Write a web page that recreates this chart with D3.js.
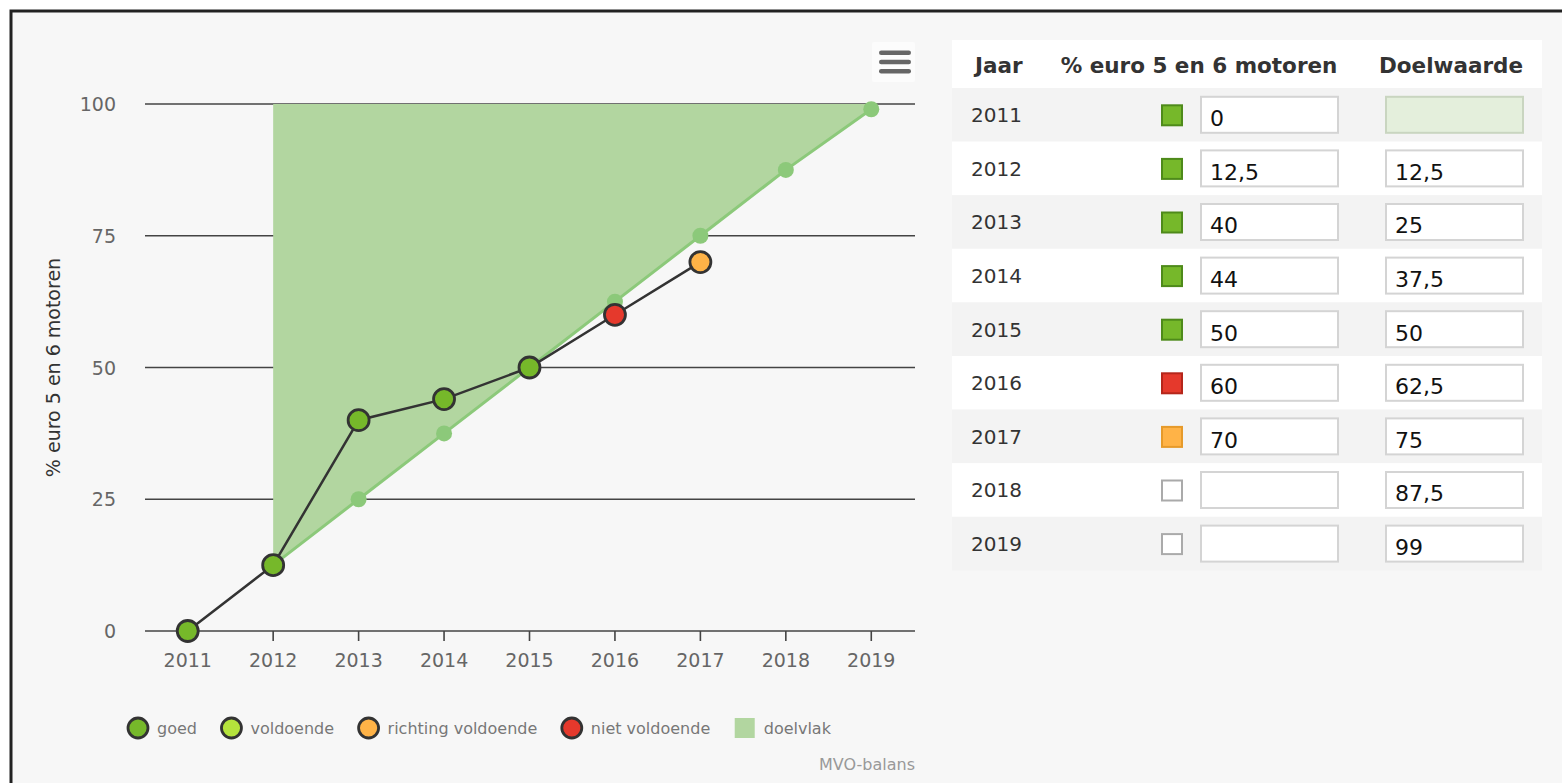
<!DOCTYPE html>
<html>
<head>
<meta charset="utf-8">
<script src="https://cdn.jsdelivr.net/npm/d3@7"></script>
<style>
  html, body { margin: 0; padding: 0; background: #ffffff; }
  svg { display: block; }
</style>
</head>
<body>
<div id="chart"></div>
<script>
// data
var years = [2011, 2012, 2013, 2014, 2015, 2016, 2017, 2018, 2019];
var actual = [0, 12.5, 40, 44, 50, 60, 70, null, null];
var target = [null, 12.5, 25, 37.5, 50, 62.5, 75, 87.5, 99];
var pointStatus = ["goed", "goed", "goed", "goed", "goed", "niet voldoende", "richting voldoende", null, null];
var yTicks = [0, 25, 50, 75, 100];
var legendNames = ["goed", "voldoende", "richting voldoende", "niet voldoende", "doelvlak"];
var legendColours = ["#76b82a", "#b5e33c", "#ffb347", "#e5392c", "#b2d6a0"];
var headers = ["Jaar", "% euro 5 en 6 motoren", "Doelwaarde"];

var width = 1562, height = 783;
var FONT = "'DejaVu Sans', Verdana, sans-serif";
var statusFill = d3.scaleOrdinal().domain(legendNames).range(legendColours);
var statusStroke = d3.scaleOrdinal()
    .domain(["goed", "voldoende", "richting voldoende", "niet voldoende"])
    .range(["#4e8a1a", "#86b022", "#e69a2a", "#b5261b"]);

function fmt(v) { return v == null ? "" : String(v).replace(".", ","); }

var svg = d3.select("#chart").append("svg")
    .attr("width", width)
    .attr("height", height);

// frame
svg.append("rect")
    .attr("x", 11).attr("y", 11)
    .attr("width", 1700).attr("height", 900)
    .attr("fill", "#f7f7f7")
    .attr("stroke", "#222").attr("stroke-width", 3);

// ===========================================================================================
// chart
var x = d3.scaleLinear().domain([2010.5, 2019.5]).range([145, 914]);
var y = d3.scaleLinear().domain([0, 100]).range([631, 104]);

var plot = svg.append("g").attr("class", "plot");

// grid
plot.append("g").selectAll("line")
    .data(yTicks.filter(function(d) { return d > 0; }))
    .enter().append("line")
    .attr("x1", 145).attr("x2", 915)
    .attr("y1", function(d) { return y(d); })
    .attr("y2", function(d) { return y(d); })
    .attr("stroke", "#444").attr("stroke-width", 1.6);

// y labels
plot.append("g").selectAll("text")
    .data(yTicks)
    .enter().append("text")
    .attr("x", 116)
    .attr("y", function(d) { return y(d) + 7; })
    .attr("text-anchor", "end")
    .style("font", "19px " + FONT)
    .attr("fill", "#666")
    .text(function(d) { return d; });

plot.append("text")
    .attr("transform", "translate(60," + y(50) + ") rotate(-90)")
    .attr("text-anchor", "middle")
    .style("font", "19px " + FONT)
    .attr("fill", "#333")
    .text("% euro 5 en 6 motoren");

// target area (doelvlak)
var tData = years.map(function(yr, i) { return { year: yr, v: target[i] }; })
    .filter(function(d) { return d.v != null; });

var area = d3.area()
    .x(function(d) { return x(d.year); })
    .y0(y(100))
    .y1(function(d) { return y(d.v); });

plot.append("path")
    .datum(tData)
    .attr("d", area)
    .attr("fill", "#b2d6a0");

plot.append("path")
    .datum(tData)
    .attr("d", d3.line().x(function(d) { return x(d.year); }).y(function(d) { return y(d.v); }))
    .attr("fill", "none")
    .attr("stroke", "#8cc97a")
    .attr("stroke-width", 3);

plot.append("g").selectAll("circle")
    .data(tData)
    .enter().append("circle")
    .attr("cx", function(d) { return x(d.year); })
    .attr("cy", function(d) { return y(d.v); })
    .attr("r", 8)
    .attr("fill", "#8cc97a");

// x axis
plot.append("line")
    .attr("x1", 145).attr("x2", 915)
    .attr("y1", y(0)).attr("y2", y(0))
    .attr("stroke", "#444").attr("stroke-width", 1.6);

var xt = plot.append("g").selectAll("g")
    .data(years)
    .enter().append("g")
    .attr("transform", function(d) { return "translate(" + x(d) + "," + y(0) + ")"; });
xt.append("line").attr("y1", 0).attr("y2", 10).attr("stroke", "#444").attr("stroke-width", 1.6);
xt.append("text")
    .attr("y", 36)
    .attr("text-anchor", "middle")
    .style("font", "19px " + FONT)
    .attr("fill", "#666")
    .text(function(d) { return d; });

// actual series
var aData = years.map(function(yr, i) { return { year: yr, v: actual[i], s: pointStatus[i] }; })
    .filter(function(d) { return d.v != null; });

plot.append("path")
    .datum(aData)
    .attr("d", d3.line().x(function(d) { return x(d.year); }).y(function(d) { return y(d.v); }))
    .attr("fill", "none")
    .attr("stroke", "#333")
    .attr("stroke-width", 2.5);

plot.append("g").selectAll("circle")
    .data(aData)
    .enter().append("circle")
    .attr("cx", function(d) { return x(d.year); })
    .attr("cy", function(d) { return y(d.v); })
    .attr("r", 10.5)
    .attr("fill", function(d) { return statusFill(d.s); })
    .attr("stroke", "#333")
    .attr("stroke-width", 2.8);

// menu button
var menu = svg.append("g").attr("transform", "translate(872,42)");
menu.append("rect").attr("width", 43).attr("height", 40).attr("rx", 2).attr("fill", "#fcfcfc");
menu.selectAll("rect.bar")
    .data([0, 1, 2])
    .enter().append("rect")
    .attr("class", "bar")
    .attr("x", 7).attr("y", function(d) { return 8.5 + d * 9.2; })
    .attr("width", 32).attr("height", 4.5).attr("rx", 2.2)
    .attr("fill", "#666");

// legend
var legend = svg.append("g").attr("transform", "translate(138,728)");
var lx = 0;
legendNames.forEach(function(name, i) {
    var g = legend.append("g").attr("transform", "translate(" + lx + ",0)");
    if (name === "doelvlak") {
        g.append("rect").attr("x", -10).attr("y", -10).attr("width", 20).attr("height", 20).attr("fill", legendColours[i]);
    } else {
        g.append("circle").attr("cx", 0).attr("cy", 0).attr("r", 10)
            .attr("fill", legendColours[i]).attr("stroke", "#333").attr("stroke-width", 2.8);
    }
    var t = g.append("text")
        .attr("x", 19).attr("y", 6)
        .style("font", "16px " + FONT)
        .attr("fill", "#777")
        .text(name);
    lx += 19 + t.node().getComputedTextLength() + 34.5;
});

svg.append("text")
    .attr("x", 915).attr("y", 770)
    .attr("text-anchor", "end")
    .style("font", "16px " + FONT)
    .attr("fill", "#999")
    .text("MVO-balans");

// ===========================================================================================
// table
var table = svg.append("g").attr("class", "table");
var tx0 = 952, tx1 = 1542, headTop = 40, headH = 48, rowH = 53.6;

table.append("rect")
    .attr("x", tx0).attr("y", headTop).attr("width", tx1 - tx0).attr("height", headH)
    .attr("fill", "#ffffff");

var headerX = [975, 1199, 1451];
var headerAnchor = ["start", "middle", "middle"];
table.selectAll("text.head")
    .data(headers)
    .enter().append("text")
    .attr("class", "head")
    .attr("x", function(d, i) { return headerX[i]; })
    .attr("y", headTop + 33)
    .attr("text-anchor", function(d, i) { return headerAnchor[i]; })
    .style("font", "bold 21.5px " + FONT)
    .attr("fill", "#333")
    .text(function(d) { return d; });

var rows = table.selectAll("g.row")
    .data(years.map(function(yr, i) { return { year: yr, v: actual[i], t: target[i], s: pointStatus[i], i: i }; }))
    .enter().append("g")
    .attr("class", "row")
    .attr("transform", function(d) { return "translate(0," + (headTop + headH + d.i * rowH) + ")"; });

rows.append("rect")
    .attr("x", tx0).attr("width", tx1 - tx0).attr("height", rowH)
    .attr("fill", function(d) { return d.i % 2 === 0 ? "#f3f3f3" : "#ffffff"; });

rows.append("text")
    .attr("x", 971).attr("y", rowH / 2 + 7.5)
    .style("font", "20px " + FONT)
    .attr("fill", "#333")
    .text(function(d) { return d.year; });

rows.append("rect")
    .attr("x", 1162).attr("y", rowH / 2 - 9.5).attr("width", 20).attr("height", 20)
    .attr("fill", function(d) { return d.s ? statusFill(d.s) : "#ffffff"; })
    .attr("stroke", function(d) { return d.s ? statusStroke(d.s) : "#aaa"; })
    .attr("stroke-width", 2);

rows.append("rect")
    .attr("x", 1201).attr("y", rowH / 2 - 18).attr("width", 137).attr("height", 36)
    .attr("fill", "#ffffff").attr("stroke", "#d4d4d4").attr("stroke-width", 2);

rows.append("text")
    .attr("x", 1210).attr("y", rowH / 2 + 11.5)
    .style("font", "22px " + FONT)
    .attr("fill", "#111")
    .text(function(d) { return fmt(d.v); });

rows.append("rect")
    .attr("x", 1386).attr("y", rowH / 2 - 18).attr("width", 137).attr("height", 36)
    .attr("fill", function(d) { return d.t == null ? "#e4efdc" : "#ffffff"; })
    .attr("stroke", function(d) { return d.t == null ? "#c9d5c0" : "#d4d4d4"; })
    .attr("stroke-width", 2);

rows.append("text")
    .attr("x", 1395).attr("y", rowH / 2 + 11.5)
    .style("font", "22px " + FONT)
    .attr("fill", "#111")
    .text(function(d) { return fmt(d.t); });
</script>
</body>
</html>
